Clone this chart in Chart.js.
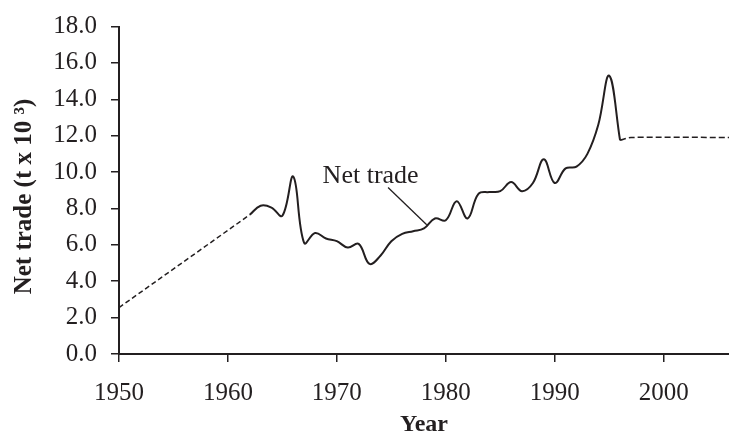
<!DOCTYPE html>
<html>
<head>
<meta charset="utf-8">
<script src="https://cdn.jsdelivr.net/npm/chart.js@4.4.0/dist/chart.umd.min.js"></script>
<style>
  html, body { margin: 0; padding: 0; background: #fff; }
  #wrap { width: 729px; height: 434px; }
</style>
</head>
<body>
<div id="wrap"><canvas id="myChart" width="729" height="434"></canvas></div>
<script>
// estimated trend before the annual record (dashed)
const EARLY_YEARS = [1950, 1962];
const EARLY_VALUES = [2.55, 7.65];

// annual net trade, t x 10^3
const YEARS = [1962, 1963, 1964, 1965, 1966, 1967, 1968, 1969, 1970, 1971,
    1972, 1973, 1974, 1975, 1976, 1977, 1978, 1979, 1980, 1981,
    1982, 1983, 1984, 1985, 1986, 1987, 1988, 1989, 1990, 1991,
    1992, 1993, 1994, 1995, 1996];
const NET_TRADE = [7.65, 8.15, 8.05, 7.6, 9.75, 6.1, 6.65, 6.35, 6.2, 5.85,
    6.05, 4.95, 5.4, 6.2, 6.6, 6.75, 6.9, 7.45, 7.35, 8.4,
    7.45, 8.8, 8.9, 8.95, 9.45, 8.95, 9.4, 10.7, 9.4, 10.2,
    10.3, 11.0, 12.6, 15.3, 11.75];

// projection after the record (dashed)
const LATE_YEARS = [1996, 1997, 2006];
const LATE_VALUES = [11.75, 11.9, 11.9];

const X_TICKS = [1950, 1960, 1970, 1980, 1990, 2000];
const Y_TICKS = [0, 2, 4, 6, 8, 10, 12, 14, 16, 18];

// callout "Net trade" in data units (text baseline)
const LABEL_TEXT = "Net trade";
const LABEL_AT = {x: 1973.1, y: 9.4};
const LEADER_FROM = {x: 1974.7, y: 9.15};
const LEADER_TO = {x: 1978.25, y: 7.1};

const INK = "#231f20";
const SERIF = "'Liberation Serif', 'Times New Roman', serif";

function toPoints(xs, ys) {
    return xs.map((x, i) => ({x: x, y: ys[i]}));
}

// draws the text callout with its leader line
const calloutPlugin = {
    id: "callout",
    afterDatasetsDraw(chart) {
        const {ctx, scales: {x, y}} = chart;
        ctx.save();
        ctx.strokeStyle = INK;
        ctx.lineWidth = 1.3;
        ctx.beginPath();
        ctx.moveTo(x.getPixelForValue(LEADER_FROM.x), y.getPixelForValue(LEADER_FROM.y));
        ctx.lineTo(x.getPixelForValue(LEADER_TO.x), y.getPixelForValue(LEADER_TO.y));
        ctx.stroke();
        ctx.fillStyle = INK;
        ctx.font = "26px " + SERIF;
        ctx.textAlign = "center";
        ctx.textBaseline = "alphabetic";
        ctx.fillText(LABEL_TEXT, x.getPixelForValue(LABEL_AT.x), y.getPixelForValue(LABEL_AT.y));
        ctx.restore();
    }
};

const ctx = document.getElementById("myChart").getContext("2d");
new Chart(ctx, {
    type: "line",
    data: {
        datasets: [
            {
                data: toPoints(EARLY_YEARS, EARLY_VALUES),
                borderColor: INK,
                borderWidth: 1.5,
                borderDash: [5, 3],
                pointRadius: 0,
                tension: 0
            },
            {
                data: toPoints(YEARS, NET_TRADE),
                borderColor: INK,
                borderWidth: 2,
                pointRadius: 0,
                tension: 0.4
            },
            {
                data: toPoints(LATE_YEARS, LATE_VALUES),
                borderColor: INK,
                borderWidth: 1.5,
                borderDash: [6, 3],
                pointRadius: 0,
                tension: 0.3
            }
        ]
    },
    options: {
        responsive: false,
        animation: false,
        layout: {padding: {top: 16, right: 0, bottom: 0, left: 0}},
        plugins: {legend: {display: false}, tooltip: {enabled: false}},
        scales: {
            x: {
                type: "linear",
                min: 1950,
                max: 2006,
                afterFit(scale) { scale.height = 80; },
                afterBuildTicks(scale) { scale.ticks = X_TICKS.map(v => ({value: v})); },
                border: {display: true, color: INK, width: 2},
                grid: {drawOnChartArea: false, drawTicks: true, tickLength: 8, color: INK, lineWidth: 1.5},
                ticks: {
                    color: INK,
                    padding: 19,
                    maxRotation: 0,
                    font: {family: SERIF, size: 25, lineHeight: 1},
                    callback: v => String(v)
                },
                title: {
                    display: true,
                    text: "Year",
                    color: INK,
                    padding: {top: 0, bottom: 0},
                    font: {family: SERIF, size: 24, weight: "bold", lineHeight: 0.75}
                }
            },
            y: {
                min: 0,
                max: 18,
                afterFit(scale) { scale.width = 119; },
                afterBuildTicks(scale) { scale.ticks = Y_TICKS.map(v => ({value: v})); },
                border: {display: true, color: INK, width: 2},
                grid: {drawOnChartArea: false, drawTicks: true, tickLength: 8, color: INK, lineWidth: 1.5},
                ticks: {
                    color: INK,
                    padding: 14,
                    font: {family: SERIF, size: 25, lineHeight: 1},
                    callback: v => v.toFixed(1)
                },
                title: {
                    display: true,
                    text: "Net trade (t x 10 \u00b3)  ",
                    color: INK,
                    padding: {top: 12, bottom: 0},
                    font: {family: SERIF, size: 25, weight: "bold", lineHeight: 1}
                }
            }
        }
    },
    plugins: [calloutPlugin]
});
</script>
</body>
</html>
